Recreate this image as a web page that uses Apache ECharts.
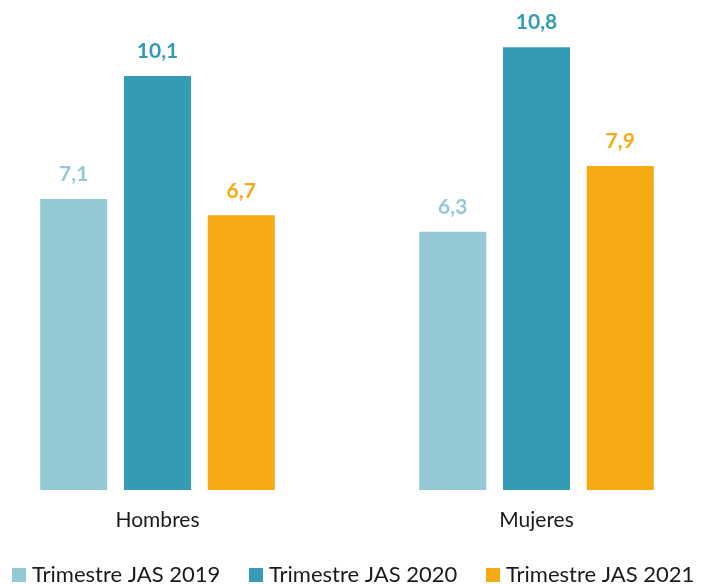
<!DOCTYPE html>
<html>
<head>
<meta charset="utf-8">
<script src="https://cdn.jsdelivr.net/npm/echarts@6/dist/echarts.min.js"></script>
<style>
html,body{margin:0;padding:0;background:#fff;overflow:hidden;}
#c{width:702px;height:584px;}
</style>
</head>
<body>
<div id="c"></div>
<script>
var categories = ['Hombres', 'Mujeres'];
var seriesNames = ['Trimestre JAS 2019', 'Trimestre JAS 2020', 'Trimestre JAS 2021'];
var values2019 = [7.1, 6.3];
var values2020 = [10.1, 10.8];
var values2021 = [6.7, 7.9];
var colors = ['#92C9D4', '#349BB4', '#F5A912'];

var font = 'Lato, "Open Sans", sans-serif';
function fmt(p){ return String(p.value).replace('.', ','); }
function mk(name, data, color){
  return {
    name: name, type: 'bar', data: data, barWidth: 67, barGap: '25%',
    itemStyle: {color: color},
    label: {show: true, position: 'top', distance: 14, formatter: fmt,
      color: color, fontWeight: 'bold', fontSize: 21, fontFamily: font}
  };
}
var legendLefts = [12, 249, 486];
var legends = seriesNames.map(function(n, i){
  return {data: [n], left: legendLefts[i], top: 564, itemWidth: 14, itemHeight: 14,
    itemGap: 0, icon: 'rect', padding: 0,
    textStyle: {fontSize: 22, color: '#1a1a1a', fontFamily: font, padding: [0, 0, 0, 1]}};
});
var chart = echarts.init(document.getElementById('c'));
chart.setOption({
  animation: false,
  color: colors,
  grid: {left: -32, width: 758, top: 39, height: 451, outerBoundsMode: 'none', containLabel: false},
  xAxis: {type: 'category', data: categories,
    axisLine: {show: false}, axisTick: {show: false},
    axisLabel: {color: '#1a1a1a', fontSize: 21, fontFamily: font, margin: 20}},
  yAxis: {type: 'value', min: 0, max: 11, show: false},
  legend: legends,
  series: [mk(seriesNames[0], values2019, colors[0]),
           mk(seriesNames[1], values2020, colors[1]),
           mk(seriesNames[2], values2021, colors[2])]
});
</script>
</body>
</html>
